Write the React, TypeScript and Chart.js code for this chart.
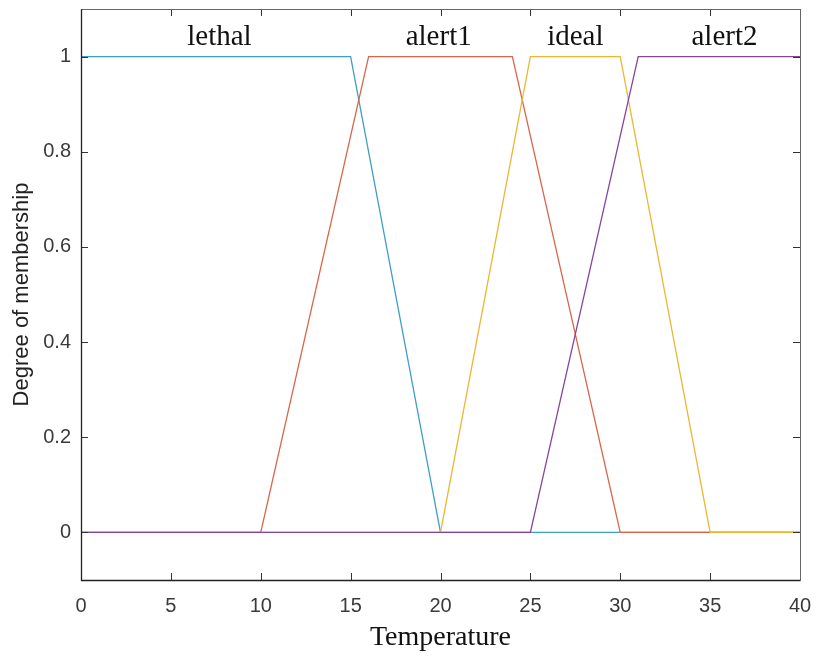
import React, { useEffect, useRef } from "react";
import { Chart, registerables } from "chart.js";

Chart.register(...registerables);

// Membership functions (temperature breakpoints and degrees)
const lethalX = [0, 15, 20, 40];
const lethalY = [1, 1, 0, 0];
const alert1X = [0, 10, 16, 24, 30, 40];
const alert1Y = [0, 0, 1, 1, 0, 0];
const idealX = [0, 20, 25, 30, 35, 40];
const idealY = [0, 0, 1, 1, 0, 0];
const alert2X = [0, 25, 31, 40];
const alert2Y = [0, 0, 1, 1];

const setNames = ["lethal", "alert1", "ideal", "alert2"];
const setLabelX = [7.7, 19.9, 27.5, 35.8];
const setLabelY = 1.025;

const xTicks = [0, 5, 10, 15, 20, 25, 30, 35, 40];
const yTicks = [0, 0.2, 0.4, 0.6, 0.8, 1];

const toPts = (xs: number[], ys: number[]) => xs.map((x, i) => ({ x, y: ys[i] }));

const annotPlugin = {
  id: "matlabDecor",
  afterDatasetsDraw(chart: any) {
    const { ctx, chartArea } = chart;
    const xs = chart.scales.x;
    const ys = chart.scales.y;
    ctx.save();
    // inward ticks
    ctx.strokeStyle = "#333";
    ctx.lineWidth = 1;
    const tl = 7;
    ctx.beginPath();
    xTicks.forEach((v) => {
      const px = Math.round(xs.getPixelForValue(v)) + 0.5;
      ctx.moveTo(px, chartArea.bottom);
      ctx.lineTo(px, chartArea.bottom - tl);
      ctx.moveTo(px, chartArea.top);
      ctx.lineTo(px, chartArea.top + tl);
    });
    yTicks.forEach((v) => {
      const py = Math.round(ys.getPixelForValue(v)) + 0.5;
      ctx.moveTo(chartArea.left, py);
      ctx.lineTo(chartArea.left + tl, py);
      ctx.moveTo(chartArea.right, py);
      ctx.lineTo(chartArea.right - tl, py);
    });
    ctx.stroke();
    // frame
    const l = Math.round(chartArea.left) + 0.5;
    const r = Math.round(chartArea.right) + 0.5;
    const t = Math.round(chartArea.top) + 0.5;
    const b = Math.round(chartArea.bottom) + 0.5;
    ctx.strokeStyle = "#666";
    ctx.beginPath();
    ctx.moveTo(l, t);
    ctx.lineTo(r, t);
    ctx.lineTo(r, b);
    ctx.stroke();
    ctx.strokeStyle = "#222";
    ctx.lineWidth = 1.3;
    ctx.beginPath();
    ctx.moveTo(l, t);
    ctx.lineTo(l, b);
    ctx.lineTo(r, b);
    ctx.stroke();
    // set name labels
    ctx.fillStyle = "#111";
    ctx.font = "29px 'Liberation Serif', 'Times New Roman', serif";
    ctx.textAlign = "center";
    ctx.textBaseline = "alphabetic";
    setNames.forEach((name, i) => {
      ctx.fillText(name, xs.getPixelForValue(setLabelX[i]), ys.getPixelForValue(setLabelY));
    });
    ctx.restore();
  },
};

export default function App() {
  const ref = useRef<HTMLCanvasElement>(null);
  useEffect(() => {
    document.body.style.margin = "0";
    const canvas = ref.current!;
    const lw = 1.3;
    const chart = new Chart(canvas, {
      type: "line",
      data: {
        datasets: [
          { label: "lethal", data: toPts(lethalX, lethalY), borderColor: "#3f9fc0", borderWidth: lw, pointRadius: 0, order: 3 },
          { label: "alert1", data: toPts(alert1X, alert1Y), borderColor: "#d8654a", borderWidth: lw, pointRadius: 0, order: 2 },
          { label: "ideal", data: toPts(idealX, idealY), borderColor: "#ebb733", borderWidth: lw, pointRadius: 0, order: 1 },
          { label: "alert2", data: toPts(alert2X, alert2Y), borderColor: "#86449a", borderWidth: lw, pointRadius: 0, order: 0 },
        ],
      },
      options: {
        animation: false,
        responsive: false,
        maintainAspectRatio: false,
        layout: { padding: { top: 9, right: 16, left: 0, bottom: 0 } },
        plugins: { legend: { display: false }, tooltip: { enabled: false } },
        elements: { line: { tension: 0 } },
        scales: {
          x: {
            type: "linear",
            min: 0,
            max: 40,
            afterBuildTicks: (s: any) => { s.ticks = xTicks.map((v) => ({ value: v })); },
            afterFit: (s: any) => { s.height = 77; s.paddingLeft = 0; s.paddingRight = 0; },
            grid: { display: false, drawTicks: false },
            border: { display: false },
            ticks: {
              padding: 14,
              color: "#3a3a3a",
              font: { family: "'Liberation Sans', Arial, sans-serif", size: 20 },
              maxRotation: 0,
              callback: (v: any) => String(v),
            },
            title: {
              display: true,
              text: "Temperature",
              color: "#111",
              font: { family: "'Liberation Serif', 'Times New Roman', serif", size: 28, lineHeight: 1.0 },
              padding: { top: 0, bottom: 5 },
            },
          },
          y: {
            type: "linear",
            min: -0.1,
            max: 1.1,
            afterBuildTicks: (s: any) => { s.ticks = yTicks.map((v) => ({ value: v })); },
            afterFit: (s: any) => { s.width = 81; s.paddingTop = 0; s.paddingBottom = 0; },
            grid: { display: false, drawTicks: false },
            border: { display: false },
            ticks: {
              padding: 10,
              color: "#3a3a3a",
              font: { family: "'Liberation Sans', Arial, sans-serif", size: 20 },
              callback: (v: any) => String(Math.round(v * 10) / 10),
            },
            title: {
              display: true,
              text: "Degree of membership",
              color: "#222",
              font: { family: "'Liberation Sans', Arial, sans-serif", size: 22, lineHeight: 1.2 },
              padding: { top: 9, bottom: 0 },
            },
          },
        },
      },
      plugins: [annotPlugin],
    } as any);
    return () => chart.destroy();
  }, []);
  return <canvas ref={ref} width={816} height={657} style={{ display: "block" }} />;
}
